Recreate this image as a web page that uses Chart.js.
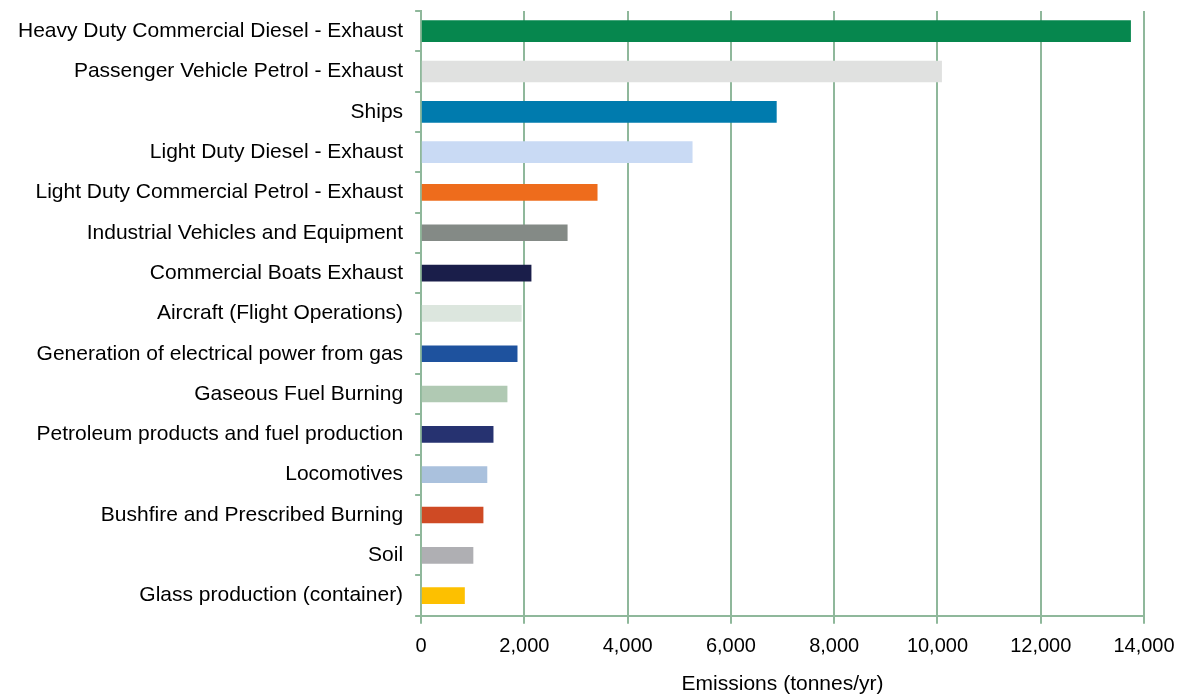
<!DOCTYPE html>
<html>
<head>
<meta charset="utf-8">
<script src="https://cdn.jsdelivr.net/npm/chart.js@4"></script>
<style>
  html, body { margin: 0; padding: 0; background: #fff; }
  #wrap { width: 1179px; height: 697px; }
</style>
</head>
<body>
<div id="wrap"><canvas id="chart" width="1179" height="697"></canvas></div>
<script>
// categorías y valores (tonnes/yr)
const categories = [
  "Heavy Duty Commercial Diesel - Exhaust",
  "Passenger Vehicle Petrol - Exhaust",
  "Ships",
  "Light Duty Diesel - Exhaust",
  "Light Duty Commercial Petrol - Exhaust",
  "Industrial Vehicles and Equipment",
  "Commercial Boats Exhaust",
  "Aircraft (Flight Operations)",
  "Generation of electrical power from gas",
  "Gaseous Fuel Burning",
  "Petroleum products and fuel production",
  "Locomotives",
  "Bushfire and Prescribed Burning",
  "Soil",
  "Glass production (container)"
];
const emissions = [13740, 10080, 6880, 5250, 3410, 2830, 2130, 1940, 1860, 1665, 1395, 1275, 1200, 1005, 840];
const xTicks = [0, 2000, 4000, 6000, 8000, 10000, 12000, 14000];

const barColors = [
  "#06874e", "#e0e1e0", "#007bae", "#c9daf4", "#ee6c1c",
  "#848a86", "#1a1e4a", "#dce6de", "#1e529e", "#b0c9b3",
  "#263270", "#aac1dd", "#cf4a24", "#afafb3", "#fdc000"
];

const gridGreen = "#8fb89b";
const thickRows = 4; // las 4 primeras barras son más gruesas

const mkData = (keep) => emissions.map((v, i) => (keep(i) ? v : null));

new Chart(document.getElementById("chart"), {
  type: "bar",
  data: {
    labels: categories,
    datasets: [
      {
        data: mkData((i) => i < thickRows),
        backgroundColor: barColors,
        barThickness: 21,
        skipNull: true
      },
      {
        data: mkData((i) => i >= thickRows),
        backgroundColor: barColors,
        barThickness: 16,
        skipNull: true
      }
    ]
  },
  options: {
    indexAxis: "y",
    responsive: false,
    animation: false,
    layout: { padding: { top: 11, right: 2, left: 6, bottom: 0 } },
    plugins: {
      legend: { display: false },
      tooltip: { enabled: false }
    },
    scales: {
      x: {
        min: 0,
        max: 14000,
        afterBuildTicks: (axis) => {
          axis.ticks = xTicks.map((v) => ({ value: v }));
        },
        afterFit: (scale) => {
          scale.paddingRight = 35;
        },
        grid: { color: gridGreen, lineWidth: 2, tickLength: 8 },
        border: { color: gridGreen, width: 2 },
        ticks: {
          color: "#000",
          font: { family: "Liberation Sans, Arial", size: 20 },
          padding: 11,
          maxRotation: 0,
          callback: (v) => v.toLocaleString("en-US")
        },
        title: {
          display: true,
          text: "Emissions (tonnes/yr)",
          color: "#000",
          font: { family: "Liberation Sans, Arial", size: 21 },
          padding: { top: 2, bottom: 0 }
        }
      },
      y: {
        // quitar el margen vertical que Chart.js reserva para las etiquetas
        afterFit: (scale) => {
          scale.paddingTop = 0;
          scale.paddingBottom = 0;
        },
        grid: {
          display: true,
          drawOnChartArea: false,
          offset: true,
          color: gridGreen,
          lineWidth: 2,
          tickLength: 6
        },
        border: { color: gridGreen, width: 2 },
        ticks: {
          color: "#000",
          font: { family: "Liberation Sans, Arial", size: 21 },
          padding: 12,
          autoSkip: false
        }
      }
    }
  }
});
</script>
</body>
</html>
